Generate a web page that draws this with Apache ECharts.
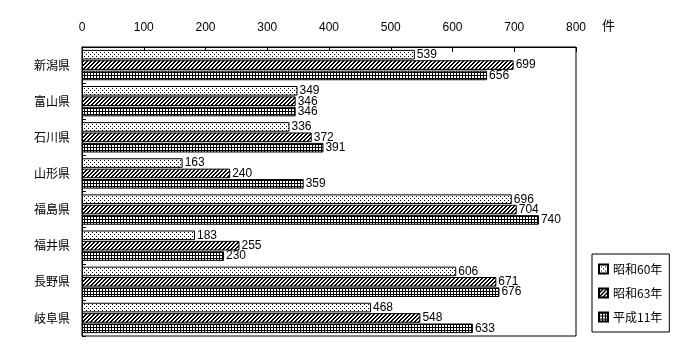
<!DOCTYPE html>
<html><head><meta charset="utf-8">
<script src="https://cdn.jsdelivr.net/npm/echarts@6/dist/echarts.min.js"></script>
<style>html,body{margin:0;padding:0;background:#fff}#c{width:700px;height:360px}</style>
</head><body><div id="c"></div>
<script>
const categories = ['新潟県','富山県','石川県','山形県','福島県','福井県','長野県','岐阜県'];
const seriesNames = ['昭和60年','昭和63年','平成11年'];
const s60 = [539,349,336,163,696,183,606,468];
const s63 = [699,346,372,240,704,255,671,548];
const h11 = [656,346,391,359,740,230,676,633];
const tickLabels = ['0','100','200','300','400','500','600','700','800'];
const unitLabel = '件';

function makePattern(w,h,draw){
  const c=document.createElement('canvas');c.width=w;c.height=h;
  const x=c.getContext('2d');x.fillStyle='#fff';x.fillRect(0,0,w,h);x.fillStyle='#000';draw(x);
  return {image:c,repeat:'repeat'};
}
const dotPat = makePattern(4,4,x=>{x.fillRect(0,0,1,1);x.fillRect(2,2,1,1);});
const hatchPat = makePattern(4,4,x=>{
  for(let i=0;i<4;i++){x.fillRect(3-i,i,1,1);x.fillRect((4-i)%4,i,1,1);}
});
const gridPat = makePattern(3,3,x=>{x.fillRect(0,0,3,1);x.fillRect(0,0,1,3);});
const pats=[dotPat,hatchPat,gridPat];
const dataSets=[s60,s63,h11];

const chart=echarts.init(document.getElementById('c'),null,{renderer:'canvas'});
const font='"Liberation Sans","Noto Sans CJK JP",sans-serif';
const jfont='"Noto Sans CJK JP",sans-serif';
chart.setOption({
  animation:false,
  textStyle:{fontFamily:font,color:'#000'},
  grid:{left:82,right:124,top:47,bottom:24,show:true,borderColor:'#000',borderWidth:1,backgroundColor:'transparent'},
  legend:{
    orient:'vertical',left:592,top:254,data:seriesNames,
    itemWidth:9,itemHeight:9,itemGap:12,
    padding:[9,7,9,6],borderColor:'#000',borderWidth:1,
    textStyle:{fontFamily:jfont,fontSize:12,color:'#000'},
    icon:'rect'
  },
  graphic:[{type:'text',left:602,top:19,style:{text:unitLabel,font:'13px "Noto Sans CJK JP"',fill:'#000'}}],
  xAxis:{
    type:'value',position:'top',min:0,max:800,interval:100,
    axisLine:{show:true,lineStyle:{color:'#000'}},
    axisTick:{show:true,inside:true,length:5,lineStyle:{color:'#000'}},
    splitLine:{show:false},
    axisLabel:{fontSize:12,color:'#000',margin:13,fontFamily:font,formatter:(v)=>tickLabels[Math.round(v/100)]}
  },
  yAxis:{
    type:'category',data:categories,inverse:true,
    axisLine:{show:true,lineStyle:{color:'#000'}},
    axisTick:{show:true,inside:true,length:4,lineStyle:{color:'#000'}},
    axisLabel:{fontSize:12,color:'#000',margin:12,fontFamily:jfont}
  },
  series:seriesNames.map((n,i)=>({
    name:n,type:'bar',data:dataSets[i],
    barCategoryGap:'16%',barGap:'8%',
    itemStyle:{color:pats[i],borderColor:'#000',borderWidth:1},
    label:{show:true,position:'right',distance:2,fontSize:12,color:'#000',fontFamily:font}
  }))
});
</script></body></html>
